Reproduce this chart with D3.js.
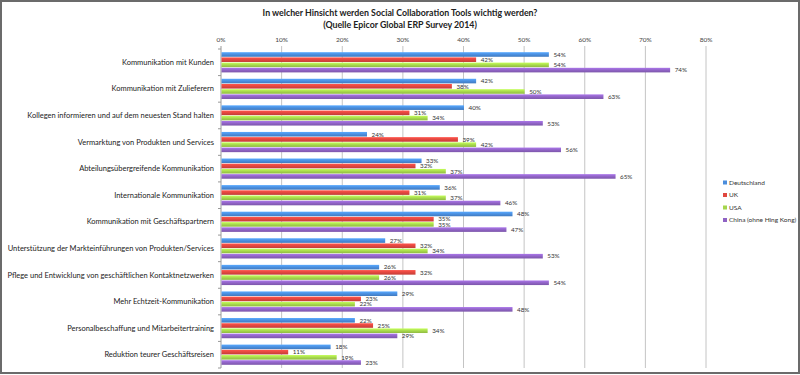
<!DOCTYPE html>
<html>
<head>
<meta charset="utf-8">
<script src="https://cdn.jsdelivr.net/npm/d3@7"></script>
<style>
  body { margin: 0; background: #fff; }
  svg { display: block; font-family: Lato, "Open Sans", sans-serif; }
</style>
</head>
<body>
<svg width="800" height="375"></svg>
<script>
const categories = [
  "Kommunikation mit Kunden",
  "Kommunikation mit Zulieferern",
  "Kollegen informieren und auf dem neuesten Stand halten",
  "Vermarktung von Produkten und Services",
  "Abteilungsübergreifende Kommunikation",
  "Internationale Kommunikation",
  "Kommunikation mit Geschäftspartnern",
  "Unterstützung der Markteinführungen von Produkten/Services",
  "Pflege und Entwicklung von geschäftlichen Kontaktnetzwerken",
  "Mehr Echtzeit-Kommunikation",
  "Personalbeschaffung und Mitarbeitertraining",
  "Reduktion teurer Geschäftsreisen"
]
const seriesNames = ["Deutschland", "UK", "USA", "China (ohne Hing Kong)"]
const deutschland = [54, 42, 40, 24, 33, 36, 48, 27, 26, 29, 22, 18]
const uk = [42, 38, 31, 39, 32, 31, 35, 32, 32, 23, 25, 11]
const usa = [54, 50, 34, 42, 37, 37, 35, 34, 26, 22, 34, 19]
const china = [74, 63, 53, 56, 65, 46, 47, 53, 54, 48, 29, 23]
const xTicks = [0, 10, 20, 30, 40, 50, 60, 70, 80]

const series = [deutschland, uk, usa, china]
const colours = ["#4a8ddc", "#e0463f", "#a5d64c", "#8f63c4"]

const svg = d3.select("svg")

// outer frame
svg.append("rect")
  .attr("x", 1).attr("y", 1).attr("width", 798).attr("height", 372)
  .attr("fill", "none").attr("stroke", "#6b6b6b").attr("stroke-width", 2)

// title
const title = svg.append("text")
  .attr("text-anchor", "middle")
  .attr("font-size", 8.8).attr("font-weight", "bold").attr("fill", "#222")
title.append("tspan").attr("x", 400).attr("y", 16)
  .text("In welcher Hinsicht werden Social Collaboration Tools wichtig werden?")
title.append("tspan").attr("x", 400).attr("y", 28)
  .text("(Quelle Epicor Global ERP Survey 2014)")

const plotLeft = 221, plotRight = 706, plotTop = 49, plotBottom = 368

const x = d3.scaleLinear().domain([0, 80]).range([plotLeft, plotRight])
const y = d3.scaleBand().domain(categories).range([plotTop, plotBottom])
  .paddingInner(0.24).paddingOuter(0.12)
const yInner = d3.scaleBand().domain(d3.range(4)).range([0, y.bandwidth()])
  .paddingInner(0.12)

// gradients for the slightly shaded bars
const defs = svg.append("defs")
colours.forEach((c, i) => {
  const g = defs.append("linearGradient").attr("id", "g" + i)
    .attr("x1", 0).attr("y1", 0).attr("x2", 0).attr("y2", 1)
  g.append("stop").attr("offset", "0%").attr("stop-color", d3.color(c).brighter(0.5))
  g.append("stop").attr("offset", "55%").attr("stop-color", c)
  g.append("stop").attr("offset", "100%").attr("stop-color", d3.color(c).darker(0.4))
})

// gridlines
svg.append("g")
  .selectAll("line")
  .data(xTicks)
  .enter().append("line")
  .attr("x1", d => x(d)).attr("x2", d => x(d))
  .attr("y1", plotTop - 3).attr("y2", plotBottom)
  .attr("stroke", d => d === 0 ? "#999" : "#c4c4c4")
  .attr("stroke-width", 1)

// top tick labels
svg.append("g")
  .selectAll("text")
  .data(xTicks)
  .enter().append("text")
  .attr("x", d => x(d)).attr("y", 42)
  .attr("text-anchor", "middle")
  .attr("font-size", 6.5).attr("fill", "#444")
  .text(d => d + "%")

// category ticks on the left axis
const boundaries = categories.map(c => y(c) - y.step() * y.paddingInner() / 2)
boundaries.push(plotBottom)
svg.append("g")
  .selectAll("line")
  .data(boundaries)
  .enter().append("line")
  .attr("x1", plotLeft - 3).attr("x2", plotLeft)
  .attr("y1", d => d).attr("y2", d => d)
  .attr("stroke", "#999")

// category labels
svg.append("g")
  .selectAll("text")
  .data(categories)
  .enter().append("text")
  .attr("x", plotLeft - 7)
  .attr("y", d => y(d) + y.bandwidth() / 2 + 2.6)
  .attr("text-anchor", "end")
  .attr("font-size", 7.5).attr("fill", "#222")
  .text(d => d)

// bars
const bars = []
categories.forEach((c, ci) => {
  series.forEach((s, si) => bars.push({cat: c, s: si, v: s[ci]}))
})

const barG = svg.append("g")
barG.selectAll("rect")
  .data(bars)
  .enter().append("rect")
  .attr("x", plotLeft + 0.5)
  .attr("y", d => y(d.cat) + yInner(d.s))
  .attr("width", d => x(d.v) - plotLeft)
  .attr("height", yInner.bandwidth())
  .attr("fill", d => "url(#g" + d.s + ")")

barG.selectAll("text")
  .data(bars)
  .enter().append("text")
  .attr("x", d => x(d.v) + 5)
  .attr("y", d => y(d.cat) + yInner(d.s) + yInner.bandwidth() / 2 + 2.3)
  .attr("font-size", 6.3).attr("fill", "#333")
  .text(d => d.v + "%")

// legend
const legend = svg.append("g")
  .selectAll("g")
  .data(seriesNames)
  .enter().append("g")
  .attr("transform", (d, i) => `translate(723,${184 + i * 12.5})`)
legend.append("rect")
  .attr("x", 0).attr("y", -3.5).attr("width", 4).attr("height", 4)
  .attr("fill", (d, i) => colours[i])
legend.append("text")
  .attr("x", 6).attr("y", 0.5)
  .attr("font-size", 6.5).attr("fill", "#333")
  .text(d => d)
</script>
</body>
</html>
